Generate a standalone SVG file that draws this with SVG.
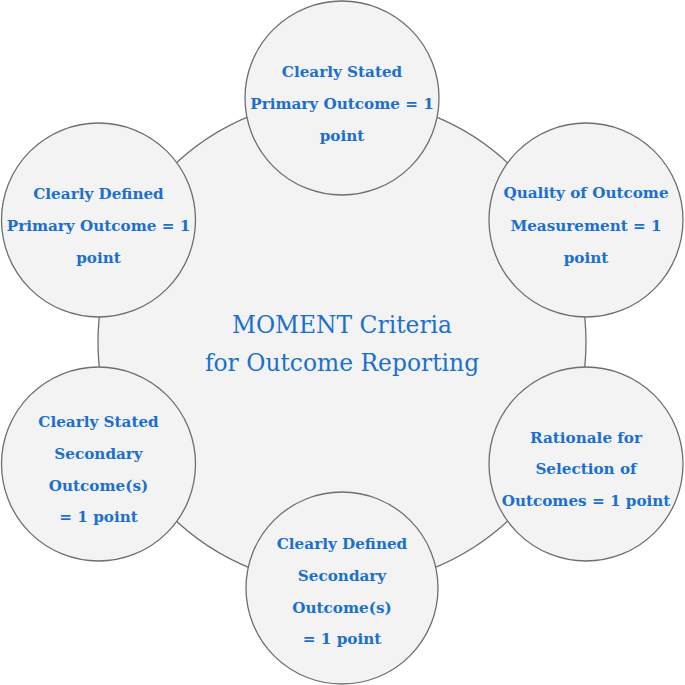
<svg xmlns="http://www.w3.org/2000/svg" width="685" height="685" viewBox="0 0 685 685">
<style>
.bg{fill:#ffffff}
.c{fill:#f3f3f3;stroke:#6e6e6e;stroke-width:1.3}
.t{font-family:"DejaVu Serif","Liberation Serif",serif;font-weight:bold;font-size:15.2px;fill:#1b70cf;text-anchor:middle}
.m{font-family:"DejaVu Serif","Liberation Serif",serif;font-size:23.4px;fill:#1b70cf;text-anchor:middle}
</style>
<rect class="bg" x="0" y="0" width="685" height="685"/>
<g id="center">
<circle class="c" cx="342" cy="342" r="244"/>
<text class="m" x="342" y="333">MOMENT Criteria</text>
<text class="m" x="342" y="371">for Outcome Reporting</text>
</g>
<g id="connectors"></g>
<g id="n-stated-primary">
<circle class="c" cx="342" cy="98" r="97"/>
<text class="t" x="342" y="77">Clearly Stated</text>
<text class="t" x="342" y="109">Primary Outcome = 1</text>
<text class="t" x="342" y="141">point</text>
</g>
<g id="n-defined-primary">
<circle class="c" cx="98.5" cy="220" r="97"/>
<text class="t" x="98.5" y="199">Clearly Defined</text>
<text class="t" x="98.5" y="231">Primary Outcome = 1</text>
<text class="t" x="98.5" y="263">point</text>
</g>
<g id="n-quality">
<circle class="c" cx="586" cy="220" r="97"/>
<text class="t" x="586" y="198">Quality of Outcome</text>
<text class="t" x="586" y="231">Measurement = 1</text>
<text class="t" x="586" y="263">point</text>
</g>
<g id="n-stated-secondary">
<circle class="c" cx="98.5" cy="464" r="97"/>
<text class="t" x="98.5" y="427">Clearly Stated</text>
<text class="t" x="98.5" y="459">Secondary</text>
<text class="t" x="98.5" y="491">Outcome(s)</text>
<text class="t" x="98.5" y="522">= 1 point</text>
</g>
<g id="n-rationale">
<circle class="c" cx="586" cy="464" r="97"/>
<text class="t" x="586" y="443">Rationale for</text>
<text class="t" x="586" y="474">Selection of</text>
<text class="t" x="586" y="506">Outcomes = 1 point</text>
</g>
<g id="n-defined-secondary">
<circle class="c" cx="342" cy="588" r="96"/>
<text class="t" x="342" y="549">Clearly Defined</text>
<text class="t" x="342" y="581">Secondary</text>
<text class="t" x="342" y="613">Outcome(s)</text>
<text class="t" x="342" y="644">= 1 point</text>
</g>
</svg>
